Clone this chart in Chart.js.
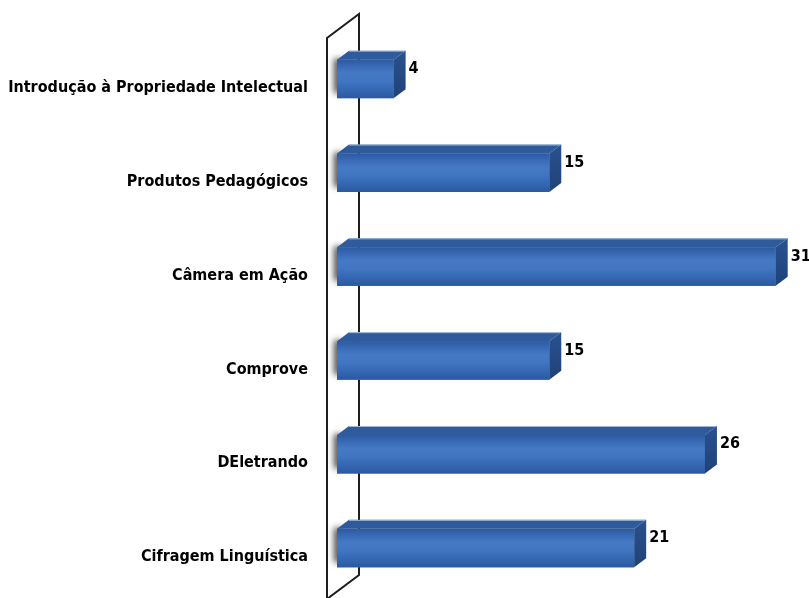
<!DOCTYPE html>
<html>
<head>
<meta charset="utf-8">
<script src="https://cdn.jsdelivr.net/npm/chart.js@4.4.1/dist/chart.umd.min.js"></script>
<style>
  html, body { margin: 0; padding: 0; background: #fff; overflow: hidden; }
  canvas { display: block; }
</style>
</head>
<body>
<canvas id="myChart" width="809" height="598"></canvas>
<script>
"use strict";
// data
const categories = [
  "Introdução à Propriedade Intelectual",
  "Produtos Pedagógicos",
  "Câmera em Ação",
  "Comprove",
  "DEletrando",
  "Cifragem Linguística"
];
const values = [4, 15, 31, 15, 26, 21];

const FONT = "'DejaVu Sans Condensed', 'DejaVu Sans', sans-serif";
const DX = 12, DY = 9; // 3d depth

// the slanted wall on the left + soft shadow of each bar
const wallPlugin = {
  id: "wall",
  beforeDatasetsDraw(chart) {
    const { ctx, chartArea } = chart;
    const l = chartArea.left, t = chartArea.top, b = chartArea.bottom;
    ctx.save();
    ctx.strokeStyle = "#1e1e1e";
    ctx.lineWidth = 2;
    ctx.beginPath();
    ctx.moveTo(l - 10, b + 4);
    ctx.lineTo(l - 10, t + 6);
    ctx.lineTo(l + 22, t - 18);
    ctx.lineTo(l + 22, b - 20);
    ctx.lineTo(l - 10, b + 4);
    ctx.stroke();
    // shadows
    chart.getDatasetMeta(0).data.forEach((bar) => {
      const { y, height, base } = bar.getProps(["y", "height", "base"], true);
      ctx.save();
      ctx.shadowColor = "rgba(0,0,0,0.7)";
      ctx.shadowBlur = 6;
      ctx.shadowOffsetX = -5;
      ctx.shadowOffsetY = -3;
      ctx.fillStyle = "#3a3a3a";
      ctx.fillRect(base + 2, y - height / 2 + 2, 8, height - 4);
      ctx.restore();
    });
    ctx.restore();
  }
};

// 3d faces + value labels
const barPlugin = {
  id: "bars3d",
  afterDatasetsDraw(chart) {
    const { ctx } = chart;
    ctx.save();
    chart.getDatasetMeta(0).data.forEach((bar, i) => {
      const { x, y, height, base } = bar.getProps(["x", "y", "height", "base"], true);
      const y0 = y - height / 2, y1 = y + height / 2;
      // front
      const g = ctx.createLinearGradient(0, y0, 0, y1);
      g.addColorStop(0, "#2d5a9f");
      g.addColorStop(0.12, "#3565b0");
      g.addColorStop(0.35, "#4679c4");
      g.addColorStop(0.55, "#4176c2");
      g.addColorStop(0.8, "#3466b1");
      g.addColorStop(1, "#2c599f");
      ctx.fillStyle = g;
      ctx.fillRect(base, y0, x - base, height);
      // top
      ctx.fillStyle = "#2f5a9c";
      ctx.beginPath();
      ctx.moveTo(base, y0);
      ctx.lineTo(x, y0);
      ctx.lineTo(x + DX, y0 - DY);
      ctx.lineTo(base + DX, y0 - DY);
      ctx.closePath();
      ctx.fill();
      ctx.strokeStyle = "rgba(190,205,230,0.8)";
      ctx.lineWidth = 1;
      ctx.beginPath();
      ctx.moveTo(base + DX, y0 - DY + 0.5);
      ctx.lineTo(x + DX, y0 - DY + 0.5);
      ctx.stroke();
      // right side
      const gs = ctx.createLinearGradient(0, y0 - DY, 0, y1);
      gs.addColorStop(0, "#2a5290");
      gs.addColorStop(1, "#1f4277");
      ctx.fillStyle = gs;
      ctx.beginPath();
      ctx.moveTo(x, y0);
      ctx.lineTo(x + DX, y0 - DY);
      ctx.lineTo(x + DX, y1 - DY);
      ctx.lineTo(x, y1);
      ctx.closePath();
      ctx.fill();
      // value
      ctx.fillStyle = "#000";
      ctx.font = "bold 16px " + FONT;
      ctx.textAlign = "left";
      ctx.textBaseline = "middle";
      ctx.fillText(String(values[i]), x + DX + 3, y - DY - 1);
    });
    ctx.restore();
  }
};

const config = {
  type: "bar",
  data: {
    labels: categories,
    datasets: [
      {
        data: values,
        backgroundColor: "#3a6db8",
        borderWidth: 0,
        barPercentage: 0.41,
        categoryPercentage: 1
      }
    ]
  },
  options: {
    indexAxis: "y",
    responsive: false,
    animation: false,
    layout: { padding: { top: 32, bottom: 3, right: 5, left: 0 } },
    plugins: { legend: { display: false }, tooltip: { enabled: false } },
    scales: {
      x: { display: false, min: 0, max: 33 },
      y: {
        grid: { display: false },
        border: { display: false },
        afterFit(scale) {
          scale.width = 337;
          scale.paddingTop = 0;
          scale.paddingBottom = 0;
        },
        ticks: {
          color: "#000",
          padding: 21,
          labelOffset: 9,
          font: { family: FONT, size: 16, weight: "bold" }
        }
      }
    }
  },
  plugins: [wallPlugin, barPlugin]
};

const myChart = new Chart(document.getElementById("myChart"), config);
</script>
</body>
</html>
